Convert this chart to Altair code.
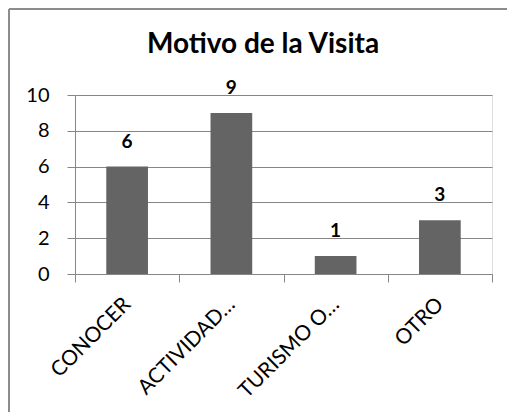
import altair as alt
import pandas as pd

categories = ["CONOCER", "ACTIVIDAD…", "TURISMO O…", "OTRO"]
values = [6, 9, 1, 3]
title_text = "Motivo de la Visita"
y_ticks = [0, 2, 4, 6, 8, 10]

df = pd.DataFrame({"cat": categories, "val": values})

FONT = "Lato"
GRID = "#868686"
BAR = "#646464"

x_enc = alt.X(
    "cat:N",
    sort=categories,
    scale=alt.Scale(paddingInner=0, paddingOuter=0),
    axis=alt.Axis(
        title=None,
        labelAngle=-45,
        labelAlign="right",
        labelBaseline="middle",
        labelPadding=19,
        labelFontSize=21,
        labelFont=FONT,
        labelColor="#000000",
        labelOverlap=False,
        tickBand="extent",
        tickSize=8,
        tickColor=GRID,
        domainColor=GRID,
        grid=False,
    ),
)
y_enc = alt.Y(
    "val:Q",
    scale=alt.Scale(domain=[0, 10], nice=False),
    axis=alt.Axis(
        title=None,
        values=y_ticks,
        tickSize=8,
        tickColor=GRID,
        domainColor=GRID,
        gridColor=GRID,
        labelPadding=18,
        labelFontSize=20,
        labelFont=FONT,
        labelColor="#000000",
        labelOverlap=False,
    ),
)

bars = alt.Chart(df).mark_bar(color=BAR, width=alt.RelativeBandSize(0.4)).encode(x=x_enc, y=y_enc)
labels = alt.Chart(df).mark_text(
    font=FONT, fontSize=19, fontWeight="bold", color="#000000", baseline="bottom", dy=-15
).encode(x=x_enc, y=y_enc, text="val:Q")

title = alt.Chart(pd.DataFrame({"t": [title_text]})).mark_text(
    font=FONT, fontSize=28, fontWeight="bold", color="#000000", baseline="alphabetic", align="center"
).encode(x=alt.value(188), y=alt.value(-42), text="t:N")

border_top = alt.Chart(df).mark_rule(color="#8c8c8c", strokeWidth=2).encode(
    x=alt.value(-66), x2=alt.value(440), y=alt.value(-86)
)
border_left = alt.Chart(df).mark_rule(color="#8c8c8c", strokeWidth=2).encode(
    x=alt.value(-66), y=alt.value(-86), y2=alt.value(330)
)

chart = (
    alt.layer(bars, labels, title, border_top, border_left)
    .properties(
        width=417,
        height=179,
        autosize=alt.AutoSizeParams(type="none"),
        padding={"left": 67, "top": 87, "right": 15, "bottom": 138},
    )
    .configure_view(stroke=None)
    .configure(background="#ffffff")
)

chart.save("out.html", embed_options={"renderer": "svg", "actions": False})
